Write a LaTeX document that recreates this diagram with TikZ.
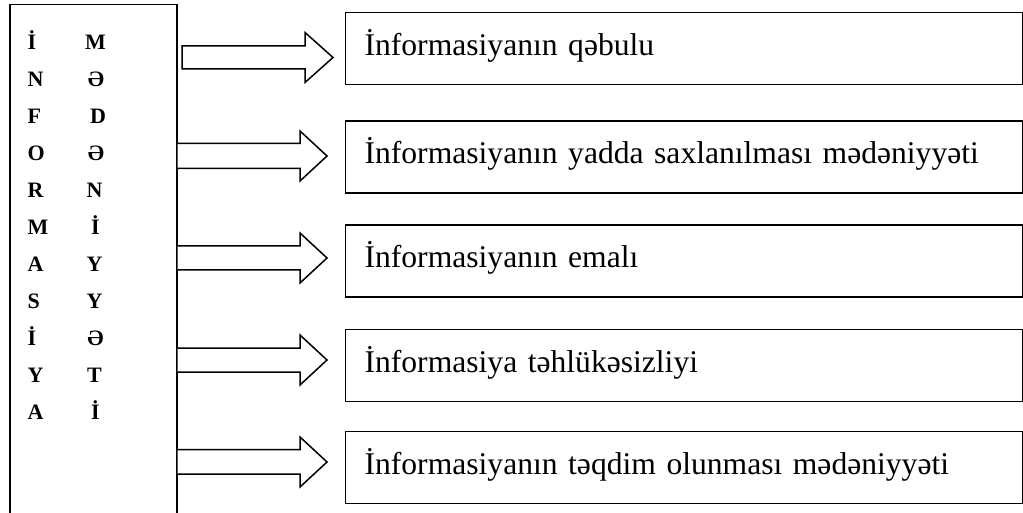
\documentclass[tikz,border=0pt]{standalone}
\usepackage{fontspec}
\setmainfont{Liberation Serif}
\begin{document}
\begin{tikzpicture}[x=1pt,y=-1pt,
  boxstyle/.style={draw,line width=1.2pt,rectangle,anchor=west,minimum width=677pt,
    minimum height=72pt,text width=639pt,align=left,inner xsep=19pt,inner ysep=0pt,
    text height=14pt,text depth=0pt,font=\fontsize{31.6}{36}\selectfont},
  letter/.style={font=\bfseries\fontsize{22}{26}\selectfont,inner sep=0pt},
  blockarrow/.style={draw,line width=1.5pt,fill=white,line join=miter}]
\useasboundingbox (0,0) rectangle (1023,513);

% main vertical box (runs past the lower edge)
\node[draw,line width=1.5pt,anchor=north west,minimum width=167pt,minimum height=540pt,inner sep=0pt] (main) at (9,4) {};

% letters, left column
\foreach \t [count=\k from 0] in {İ,N,F,O,R,M,A,S,İ,Y,A}{
  \node[letter,anchor=base west] (l\k) at (27.5,50+36.9*\k) {\t};
}
% letters, right column
\foreach \t/\dx [count=\k from 0] in {M/0,Ə/0.5,D/2.5,Ə/0.5,N/-1,İ/0,Y/-1,Y/-1,Ə/0,T/-1,İ/0}{
  \node[letter,anchor=base] (r\k) at (95.5+\dx,50+36.9*\k) {\t};
}

% right boxes
\node[boxstyle] (b1) at (345,48.5) {İnformasiyanın qəbulu};
\node[boxstyle] (b2) at (345,157) {İnformasiyanın yadda saxlanılması mədəniyyəti};
\node[boxstyle] (b3) at (345,261) {İnformasiyanın emalı};
\node[boxstyle] (b4) at (345,365.5) {İnformasiya təhlükəsizliyi};
\node[boxstyle] (b5) at (345,467.5) {İnformasiyanın təqdim olunması mədəniyyəti};

% block arrows
\draw[blockarrow] (182,46) -- (305,46) -- (305,32.5) -- (333,57.5) -- (305,82.5) -- (305,69) -- (182,69) -- cycle;
\draw[blockarrow] (main.east |- 0,143.5) -- (300,143.5) -- (300,131) -- (327,156) -- (300,181) -- (300,168.5) -- (main.east |- 0,168.5);
\draw[blockarrow] (main.east |- 0,246) -- (300,246) -- (300,233) -- (327,258) -- (300,283) -- (300,270) -- (main.east |- 0,270);
\draw[blockarrow] (main.east |- 0,348) -- (300,348) -- (300,335) -- (327,360) -- (300,385) -- (300,372) -- (main.east |- 0,372);
\draw[blockarrow] (main.east |- 0,449.5) -- (300,449.5) -- (300,437) -- (327,462) -- (300,487) -- (300,474) -- (main.east |- 0,474);
\end{tikzpicture}
\end{document}
